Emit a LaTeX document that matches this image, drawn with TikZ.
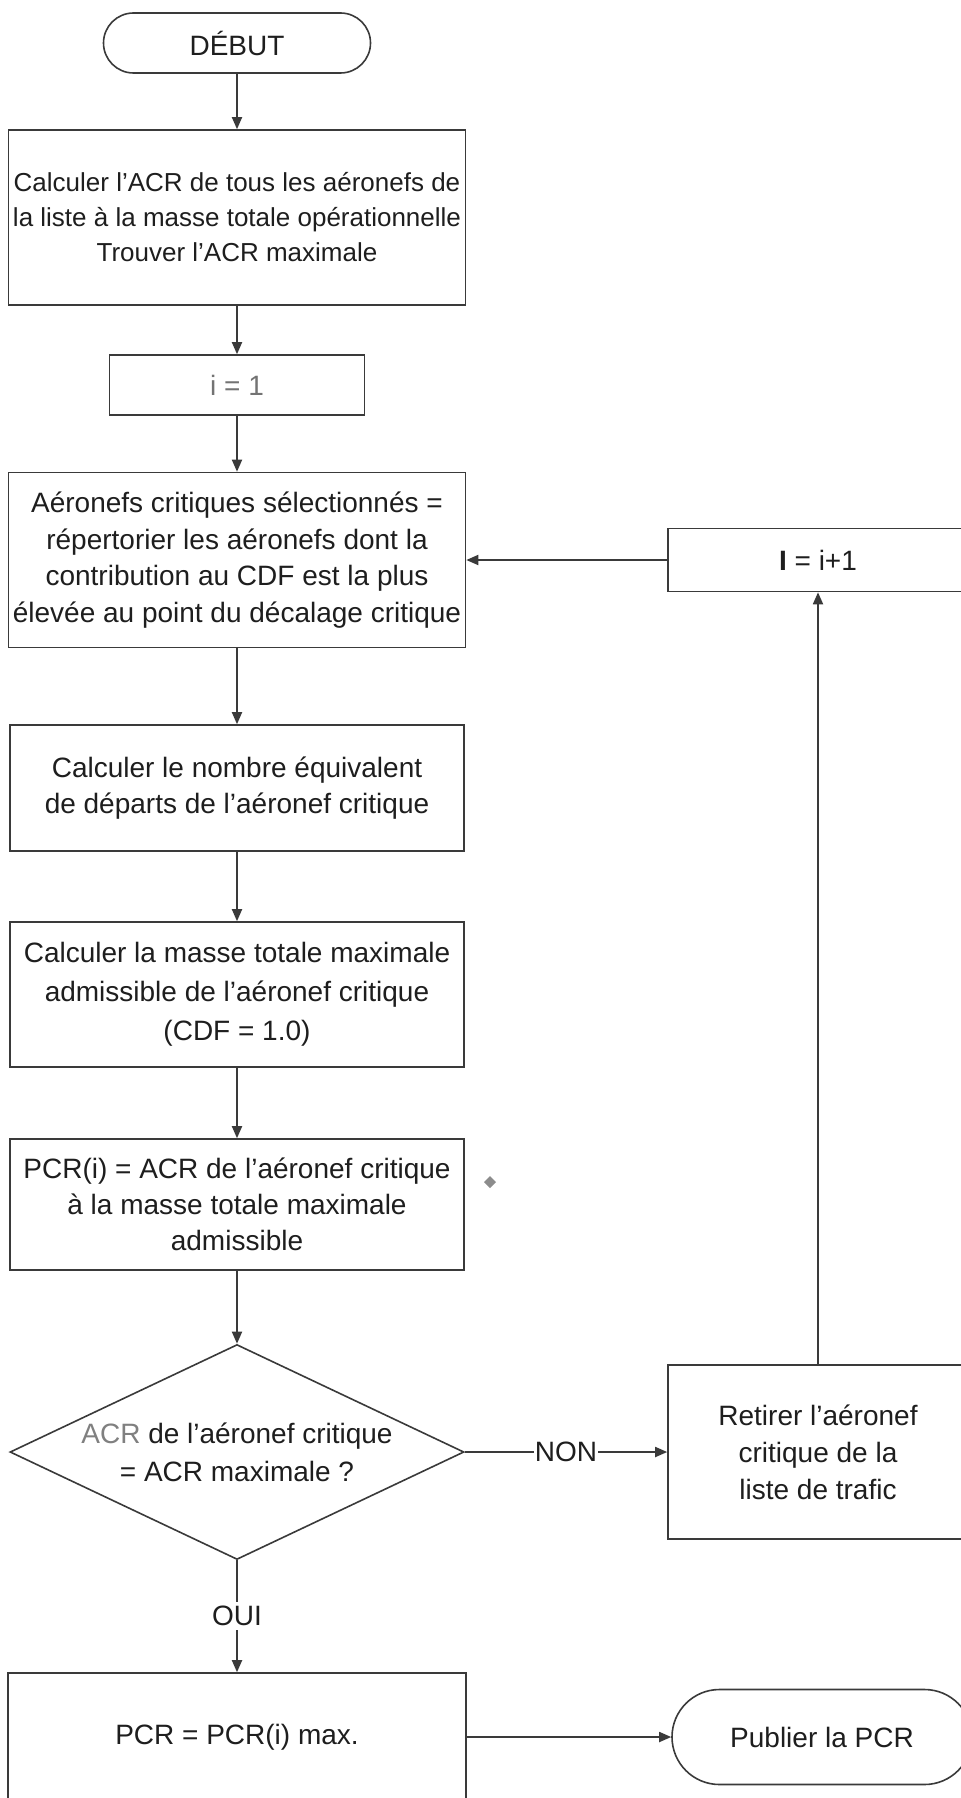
\documentclass[tikz,border=0pt]{standalone}
\usepackage{fontspec}
\setmainfont{Liberation Sans}
\usetikzlibrary{arrows.meta,shapes.geometric}
\definecolor{linegray}{HTML}{3A3A3A}
\definecolor{textgray}{HTML}{1E1E1E}

\begin{document}
\begin{tikzpicture}[x=0.5pt,y=-0.5pt,block/.style={draw=linegray,line width=0.8pt,fill=white,align=center,inner sep=1pt,text=textgray,font=\fontsize{14}{18.3}\selectfont},terminal/.style={block,rounded corners=#1},decision/.style={block,diamond,aspect=2.11,inner sep=-2pt,font=\fontsize{14}{19}\selectfont},lbl/.style={fill=white,inner sep=2pt,text=textgray,font=\fontsize{14}{16}\selectfont},arrow/.style={-{Triangle[length=6pt,width=5pt]},line width=0.9pt,draw=linegray}]
\useasboundingbox (0,0) rectangle (961,1798);
\node[terminal=15pt,minimum width=133.5pt,minimum height=30pt] (n0) at (237,43) {DÉBUT};
\node[block,minimum width=228.5pt,minimum height=87.5pt,font=\fontsize{13}{17.5}\selectfont] (n1) at (237,217.5) {Calculer l'ACR de tous les aéronefs de\\la liste à la masse totale opérationnelle\\Trouver l'ACR maximale};
\node[block,minimum width=127.5pt,minimum height=30pt,text=black!55] (n2) at (237,385) {i = 1};
\node[block,minimum width=228.5pt,minimum height=87.5pt] (n3) at (237,560) {Aéronefs critiques sélectionnés =\\répertorier les aéronefs dont la\\contribution au CDF est la plus\\élevée au point du décalage critique};
\node[block,minimum width=227pt,minimum height=63pt] (n4) at (237,788) {Calculer le nombre équivalent\\de départs de l'aéronef critique};
\node[block,minimum width=227pt,minimum height=72.5pt,font=\fontsize{14}{19.5}\selectfont] (n5) at (237,994.5) {Calculer la masse totale maximale\\admissible de l'aéronef critique\\(CDF = 1.0)};
\node[block,minimum width=227pt,minimum height=65.5pt,font=\fontsize{14}{18}\selectfont] (n6) at (237,1204.5) {PCR(i) = ACR de l'aéronef critique\\à la masse totale maximale\\admissible};
\node[decision,minimum width=227pt,minimum height=107.5pt] (n7) at (237,1452) {{\color{black!50}ACR} de l'aéronef critique\\= ACR maximale ?};
\node[block,minimum width=229pt,minimum height=64pt] (n8) at (237,1737) {PCR = PCR(i) max.};
\node[block,minimum width=150pt,minimum height=87pt,font=\fontsize{14}{18.5}\selectfont] (n9) at (818,1452) {Retirer l'aéronef\\critique de la\\liste de trafic};
\node[block,minimum width=150pt,minimum height=31.5pt] (n10) at (818,560) {\textbf{I} = i+1};
\node[terminal=23.75pt,minimum width=150pt,minimum height=47.5pt] (n11) at (822,1737) {Publier la PCR};
\fill[black!45] (490,1176) -- (496,1182) -- (490,1188) -- (484,1182) -- cycle;
\draw[arrow] (n0) -- (n1);
\draw[arrow] (n1) -- (n2);
\draw[arrow] (n2) -- (n3);
\draw[arrow] (n3) -- (n4);
\draw[arrow] (n4) -- (n5);
\draw[arrow] (n5) -- (n6);
\draw[arrow] (n6) -- (n7);
\draw[arrow] (n7) -- node[lbl] {OUI} (n8);
\draw[arrow] (n7) -- node[lbl,inner sep=0.5pt] {NON} (n9);
\draw[arrow] (n9) -- (n10);
\draw[arrow] (n10) -- (n3);
\draw[arrow] (n8) -- (n11);
\end{tikzpicture}
\end{document}
